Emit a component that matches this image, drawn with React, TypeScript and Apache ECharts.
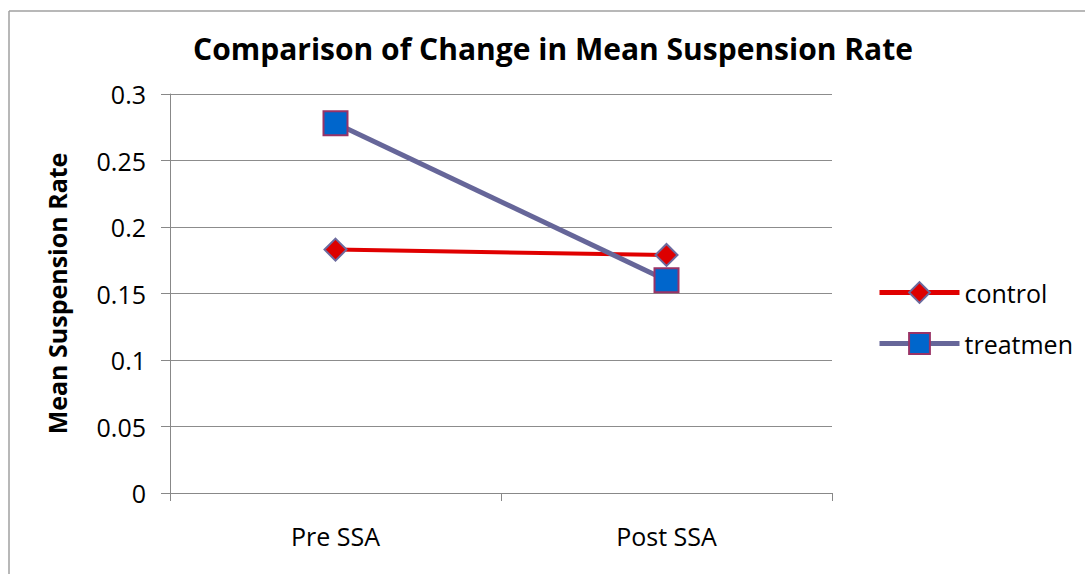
import React, { useEffect, useRef } from "react";
import * as echarts from "echarts";

const categories = ["Pre SSA", "Post SSA"];
const controlValues = [0.183, 0.179];
const treatmentValues = [0.278, 0.160];
const seriesNames = ["control", "treatmen"];
const titleText = "Comparison of Change in Mean Suspension Rate";
const yAxisTitle = "Mean Suspension Rate";

const FONT = "'Open Sans', 'Liberation Sans', sans-serif";

export default function App() {
  const ref = useRef<HTMLDivElement>(null);
  useEffect(() => {
    document.body.style.margin = "0";
    const chart = echarts.init(ref.current!, null, { renderer: "svg" });
    chart.setOption({
      animation: false,
      backgroundColor: "#ffffff",
      title: {
        text: titleText,
        left: 553,
        textAlign: "center",
        top: 33,
        padding: 0,
        textStyle: { fontFamily: FONT, fontWeight: "bold", fontSize: 30, color: "#000" },
      },
      grid: { left: 170, top: 94, right: 253, bottom: 81 },
      legend: {
        orient: "vertical",
        left: 877,
        top: 280,
        padding: 0,
        itemWidth: 80,
        itemHeight: 26,
        itemGap: 26,
        lineStyle: { width: 5 },
        textStyle: { fontFamily: FONT, fontSize: 25, color: "#000" },
        data: seriesNames,
      },
      xAxis: {
        type: "category",
        data: categories,
        boundaryGap: true,
        axisLine: { lineStyle: { color: "#888888", width: 1 } },
        axisTick: { show: true, length: 8, lineStyle: { color: "#888888" } },
        axisLabel: { fontFamily: FONT, fontSize: 25, color: "#000", margin: 30 },
      },
      yAxis: {
        type: "value",
        min: 0,
        max: 0.3,
        interval: 0.05,
        name: yAxisTitle,
        nameLocation: "middle",
        nameGap: 101,
        nameTextStyle: { fontFamily: FONT, fontWeight: "bold", fontSize: 25, color: "#000" },
        axisLine: { show: true, lineStyle: { color: "#888888", width: 1 } },
        axisTick: { show: true, length: 9, lineStyle: { color: "#888888" } },
        axisLabel: {
          fontFamily: FONT,
          fontSize: 25,
          color: "#000",
          margin: 24,
          formatter: (v: number) => String(Math.round(v * 100) / 100),
        },
        splitLine: { show: true, lineStyle: { color: "#8c8c8c", width: 1 } },
      },
      series: [
        {
          name: seriesNames[0],
          type: "line",
          data: controlValues,
          symbol: "diamond",
          symbolSize: 22,
          lineStyle: { color: "#E00000", width: 4 },
          itemStyle: { color: "#DD0000", borderColor: "#6C6A9E", borderWidth: 2 },
          z: 2,
        },
        {
          name: seriesNames[1],
          type: "line",
          data: treatmentValues,
          symbol: "rect",
          symbolSize: 24,
          lineStyle: { color: "#666699", width: 5 },
          itemStyle: { color: "#0066CC", borderColor: "#993366", borderWidth: 2 },
          z: 3,
        },
      ],
      graphic: [
        { type: "line", shape: { x1: 9, y1: 11, x2: 1085, y2: 11 }, style: { stroke: "#a0a0a0", lineWidth: 1.5 } },
        { type: "line", shape: { x1: 9, y1: 11, x2: 9, y2: 574 }, style: { stroke: "#a0a0a0", lineWidth: 1.5 } },
      ],
    });
    return () => chart.dispose();
  }, []);
  return <div ref={ref} style={{ width: 1085, height: 574 }} />;
}
